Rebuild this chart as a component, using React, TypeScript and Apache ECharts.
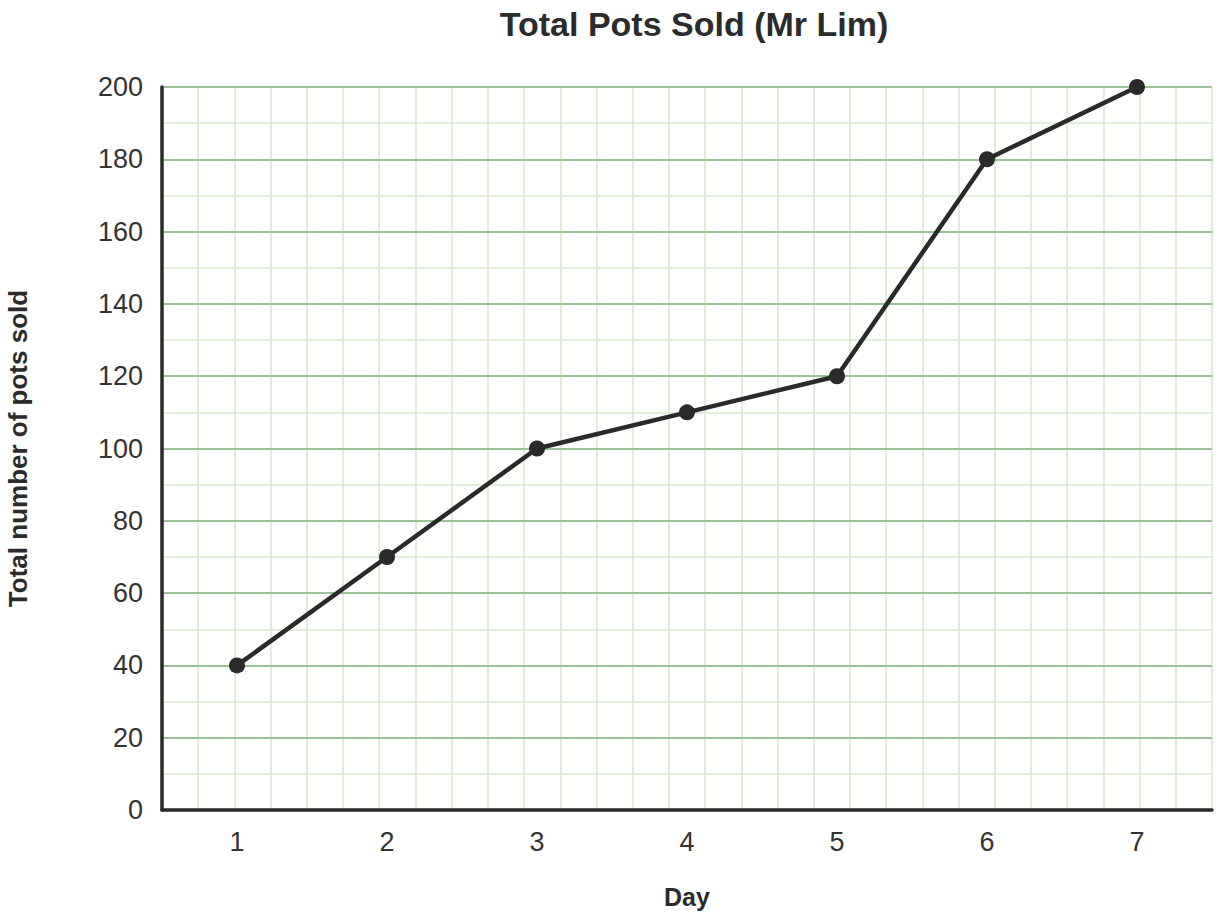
import React, { useEffect, useRef } from "react";
import * as echarts from "echarts";

const days = ["1", "2", "3", "4", "5", "6", "7"];
const potsSold = [40, 70, 100, 110, 120, 180, 200];
const titleText = "Total Pots Sold (Mr Lim)";
const xName = "Day";
const yName = "Total number of pots sold";

export default function App() {
  const ref = useRef<HTMLDivElement>(null);
  useEffect(() => {
    if (!ref.current) return;
    const chart = echarts.init(ref.current, null, { renderer: "svg" });
    const font = "'Liberation Sans', Arial, Helvetica, sans-serif";
    chart.setOption({
      animation: false,
      backgroundColor: "#ffffff",
      textStyle: { fontFamily: font },
      title: {
        text: titleText,
        left: 689,
        top: 2,
        textAlign: "center",
        textStyle: { fontSize: 34, fontWeight: "bold", color: "#2b2b2b", fontFamily: font },
      },
      grid: { left: 162, right: 8, top: 87, bottom: 108, containLabel: false, outerBoundsMode: "none" },
      xAxis: [
        {
          type: "category",
          data: days,
          boundaryGap: true,
          name: xName,
          nameLocation: "middle",
          nameGap: 74,
          nameTextStyle: { fontSize: 25, fontWeight: "bold", color: "#2b2b2b", fontFamily: font },
          axisLine: { show: true, lineStyle: { color: "#2a2a2a", width: 3.5 } },
          axisTick: { show: false },
          axisLabel: { fontSize: 27, color: "#333333", margin: 18, fontFamily: font },
          splitLine: { show: false },
          z: 5,
        },
        {
          type: "value",
          min: 0,
          max: 29,
          interval: 1,
          show: true,
          position: "top",
          axisLine: { show: false },
          axisTick: { show: false },
          axisLabel: { show: false },
          splitLine: { show: true, lineStyle: { color: "#d9eace", width: 1.6 } },
        },
      ],
      yAxis: {
        type: "value",
        min: 0,
        max: 200,
        interval: 20,
        name: yName,
        nameLocation: "middle",
        nameGap: 131,
        nameRotate: 90,
        nameTextStyle: { fontSize: 26, fontWeight: "bold", color: "#2b2b2b", fontFamily: font },
        axisLine: { show: true, lineStyle: { color: "#2a2a2a", width: 3.5 } },
        axisTick: { show: false },
        minorTick: { show: false, splitNumber: 2 },
        axisLabel: { fontSize: 27, color: "#333333", margin: 19, fontFamily: font },
        splitLine: { show: true, lineStyle: { color: "#9bc198", width: 2 } },
        minorSplitLine: { show: true, lineStyle: { color: "#d9eace", width: 1.6 } },
        z: 4,
      },
      series: [
        {
          type: "line",
          data: potsSold,
          xAxisIndex: 0,
          symbol: "circle",
          symbolSize: 16,
          lineStyle: { color: "#2a2a2a", width: 4.5 },
          itemStyle: { color: "#2a2a2a" },
          z: 10,
        },
      ],
    });
    return () => chart.dispose();
  }, []);
  return (
    <div
      ref={ref}
      style={{ position: "fixed", left: 0, top: 0, width: 1220, height: 918, background: "#fff" }}
    />
  );
}
